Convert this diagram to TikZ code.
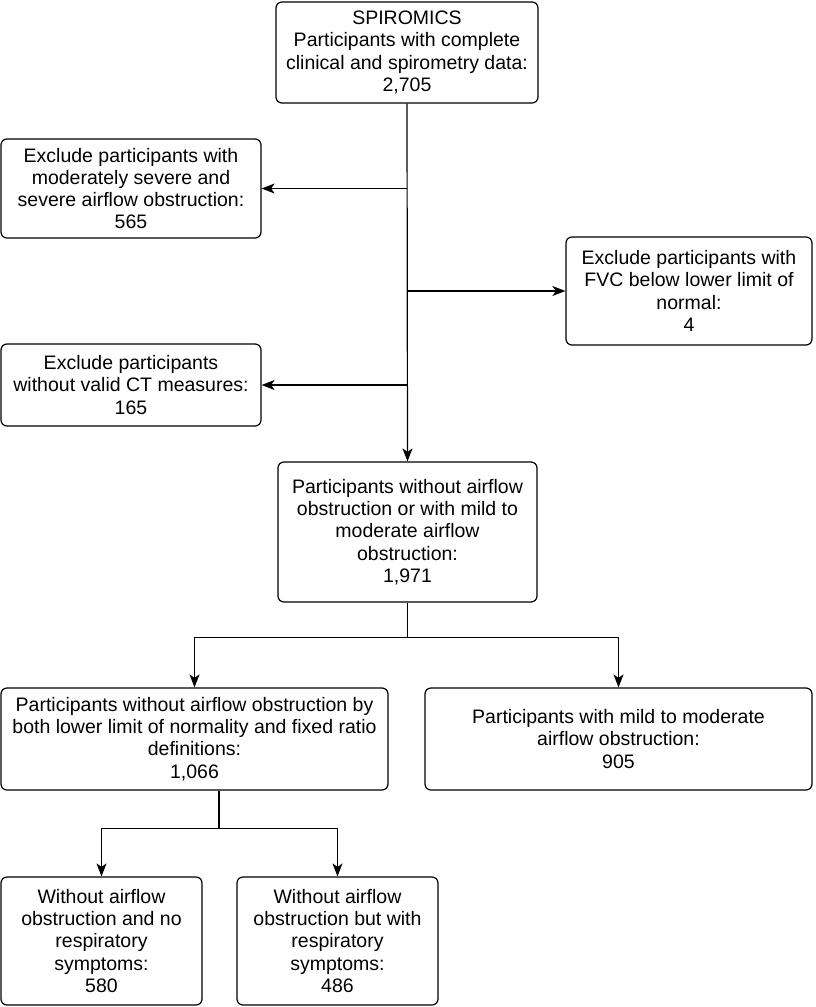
\documentclass[tikz,border=0pt]{standalone}
\usepackage{fontspec}
\setmainfont{Liberation Sans}
\usepackage{tikz}
\usetikzlibrary{positioning}
\usetikzlibrary{arrows.meta}
\usetikzlibrary{calc}

\begin{document}
\begin{tikzpicture}[x=1pt,y=-1pt,
        box/.style={draw, line width=1.2pt, rounded corners=6pt, align=center,
            inner sep=0pt, font=\fontsize{19.5}{22.3}\selectfont},
        flow/.style={line width=1.2pt, -{Stealth[length=13pt,width=10pt,inset=3.5pt]}},
        link/.style={line width=1.2pt}]
    \useasboundingbox (0,0) rectangle (815,1007);

    \node[box, minimum width=262pt, minimum height=101pt] (start) at (407,52.5)
        {SPIROMICS\\Participants with complete\\clinical and spirometry data:\\2,705};
    \node[box, minimum width=260pt, minimum height=99pt] (exsevere) at (131,188.5)
        {Exclude participants with\\moderately severe and\\severe airflow obstruction:\\565};
    \node[box, minimum width=246pt, minimum height=108pt] (exfvc) at (689,291)
        {Exclude participants with\\FVC below lower limit of\\normal:\\4};
    \node[box, minimum width=260pt, minimum height=82pt] (exct) at (131,385)
        {Exclude participants\\without valid CT measures:\\165};
    \node[box, minimum width=259pt, minimum height=140pt] (mild) at (407.5,532)
        {Participants without airflow\\obstruction or with mild to\\moderate airflow\\obstruction:\\1,971};
    \node[box, minimum width=387pt, minimum height=102pt] (noobs) at (194.5,739)
        {Participants without airflow obstruction by\\both lower limit of normality and fixed ratio\\definitions:\\1,066};
    \node[box, minimum width=387pt, minimum height=102pt] (obs) at (618.5,739)
        {Participants with mild to moderate\\airflow obstruction:\\905};
    \node[box, minimum width=201pt, minimum height=128pt] (nosym) at (101.5,941)
        {Without airflow\\obstruction and no\\respiratory\\symptoms:\\580};
    \node[box, minimum width=201pt, minimum height=128pt] (sym) at (337.5,941)
        {Without airflow\\obstruction but with\\respiratory\\symptoms:\\486};

    % main trunk and exclusions
    \draw[flow] (start.south) -- (mild.north);
    \draw[flow] (start.south |- exsevere.east) -- (exsevere.east);
    \draw[flow] (start.south |- exfvc.west) -- (exfvc.west);
    \draw[flow] (start.south |- exct.east) -- (exct.east);

    % first split
    \coordinate (split1) at ($(mild.south)+(0,35)$);
    \draw[link] (mild.south) -- (split1);
    \draw[flow] (split1) -| (noobs.north);
    \draw[flow] (split1) -| (obs.north);

    % second split
    \coordinate (split2) at ($(noobs.south)+(24.5,38)$);
    \draw[link] (noobs.south -| split2) -- (split2);
    \draw[flow] (split2) -| (nosym.north);
    \draw[flow] (split2) -| (sym.north);
\end{tikzpicture}
\end{document}
